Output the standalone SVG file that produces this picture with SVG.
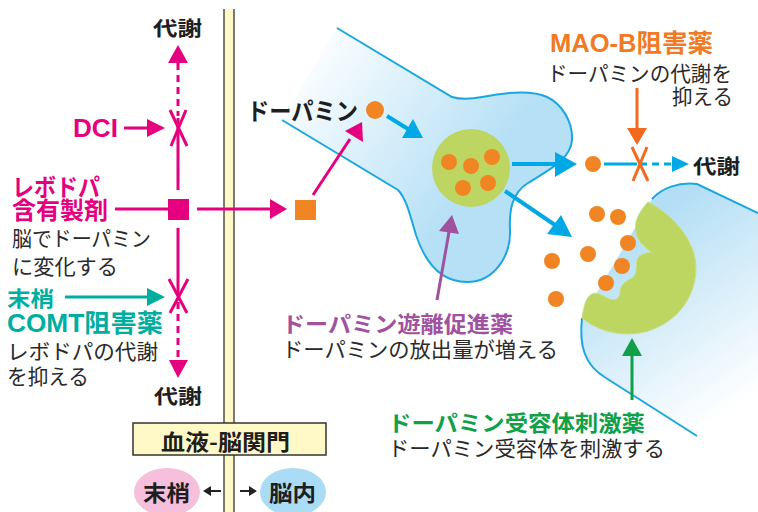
<svg xmlns="http://www.w3.org/2000/svg" width="758" height="512" viewBox="0 0 758 512">
  <defs>
    <linearGradient id="preFill" gradientUnits="userSpaceOnUse" x1="305" y1="45" x2="480" y2="175">
      <stop offset="0" stop-color="#ffffff"/>
      <stop offset="1" stop-color="#b6e0f6"/>
    </linearGradient>
    <linearGradient id="postFill" gradientUnits="userSpaceOnUse" x1="630" y1="230" x2="745" y2="400">
      <stop offset="0" stop-color="#b3def5"/>
      <stop offset="1" stop-color="#ffffff"/>
    </linearGradient>
  </defs>
  <style>
    .jp { font-family: "Noto Sans CJK JP", "Liberation Sans", sans-serif; }
    .lat { font-family: "Liberation Sans", "Noto Sans CJK JP", sans-serif; }
    .b { font-weight: 700; }
    .r { font-weight: 400; fill: #2a2a2a; }
    .mag { fill: #e4007f; }
    .teal { fill: #00ae9f; }
    .org { fill: #f07a25; }
    .pur { fill: #a0529e; }
    .grn { fill: #11a048; }
    .blk { fill: #1e1e1e; }
    .lnM { stroke: #e4007f; stroke-width: 3; fill: none; }
    .lnC { stroke: #00a9e6; stroke-width: 4; fill: none; }
    .dot { fill: #f18524; }
    .edge { stroke: #1aa7e0; stroke-width: 2; fill: none; }
  </style>

  <!-- blood-brain barrier band -->
  <g id="barrier">
    <rect x="224" y="9" width="10" height="503" fill="#fef9c6"/>
    <line x1="224" y1="9" x2="224" y2="512" stroke="#333" stroke-width="1.3"/>
    <line x1="234" y1="9" x2="234" y2="512" stroke="#333" stroke-width="1.3"/>
  </g>

  <!-- presynaptic neuron -->
  <g id="presynaptic">
    <path d="M337,28 L452,97 C462,100 472,99 482,97 C502,93 530,89 547,97 C562,104 573,122 572,140 C571,160 545,172 528,183 C512,193 509,210 510,230 C511,255 495,282 467,282 C440,282 425,262 416,235 C410,215 406,198 398,190 L282,120 Z" fill="url(#preFill)"/>
    <path class="edge" d="M337,28 L452,97 C462,100 472,99 482,97 C502,93 530,89 547,97 C562,104 573,122 572,140 C571,160 545,172 528,183 C512,193 509,210 510,230 C511,255 495,282 467,282 C440,282 425,262 416,235 C410,215 406,198 398,190 L282,120"/>
  </g>

  <!-- vesicle -->
  <g id="vesicle">
    <circle cx="471" cy="168" r="39" fill="#bdd661"/>
    <circle class="dot" cx="449" cy="162" r="8"/>
    <circle class="dot" cx="471" cy="166" r="8"/>
    <circle class="dot" cx="492" cy="157" r="8"/>
    <circle class="dot" cx="463" cy="188" r="8"/>
    <circle class="dot" cx="488" cy="183" r="8"/>
  </g>

  <!-- postsynaptic neuron and receptor -->
  <g id="postsynaptic">
    <path d="M652,199 C662,188 678,182 697,184 L758,213 L758,440 L697,436 L606,378 C584,365 579,345 582,318 Z" fill="url(#postFill)"/>
    <path class="edge" d="M652,199 C662,188 678,182 697,184 L758,213"/>
    <path class="edge" d="M582,318 C579,345 584,365 606,378 L697,436"/>
  </g>
  <g id="receptor">
    <path d="M648,202 C672,214 696,240 696,268 C696,306 664,334 628,334 C610,334 594,328 582,318 C584,305 586,297 592,294 C598,291 604,297 610,299 C616,301 620,298 620,292 C620,285 626,281 632,278 C637,275 636,266 637,260 C638,255 645,253 651,252 C645,247 638,242 636,233 C634,224 637,214 648,202 Z" fill="#bdd661" stroke="#c9e08a" stroke-width="1"/>
  </g>

  <!-- dopamine in the synaptic cleft -->
  <g id="cleft">
    <circle class="dot" cx="597" cy="214" r="8"/>
    <circle class="dot" cx="618" cy="217" r="8"/>
    <circle class="dot" cx="628" cy="243" r="8"/>
    <circle class="dot" cx="588" cy="254" r="8"/>
    <circle class="dot" cx="552" cy="261" r="8"/>
    <circle class="dot" cx="622" cy="266" r="8"/>
    <circle class="dot" cx="606" cy="283" r="8"/>
    <circle class="dot" cx="556" cy="299" r="8"/>
  </g>

  <!-- levodopa / dopamine markers -->
  <g id="levodopa">
    <rect x="168" y="199" width="21" height="21" fill="#e4007f"/>
  </g>
  <g id="levodopa-brain">
    <rect x="295" y="200" width="21" height="20" fill="#f18524"/>
  </g>
  <g id="dopamine">
    <circle class="dot" cx="375" cy="110" r="9"/>
    <text class="jp b blk" x="247" y="120" font-size="24" textLength="111" lengthAdjust="spacingAndGlyphs">ドーパミン</text>
  </g>
  <g id="dopamine-free">
    <circle class="dot" cx="593" cy="164" r="8"/>
  </g>

  <!-- connectors -->
  <g id="connectors">
    <!-- levodopa vertical axis -->
    <polygon points="168,63 188,63 178,45" fill="#e4007f"/>
    <line class="lnM" x1="178" y1="63" x2="178" y2="116" stroke-dasharray="7 5"/>
    <line class="lnM" x1="178" y1="118" x2="178" y2="190"/>
    <line class="lnM" x1="170" y1="110" x2="187" y2="146"/>
    <line class="lnM" x1="186" y1="110" x2="171" y2="146"/>
    <line class="lnM" x1="178" y1="228" x2="178" y2="295"/>
    <line class="lnM" x1="169" y1="279" x2="187" y2="313"/>
    <line class="lnM" x1="188" y1="279" x2="170" y2="313"/>
    <line class="lnM" x1="178" y1="302" x2="178" y2="361" stroke-dasharray="7 5"/>
    <polygon points="169,360 188,360 178,378" fill="#e4007f"/>
    <!-- DCI -->
    <line class="lnM" x1="124" y1="128" x2="148" y2="128"/>
    <polygon points="147,119 165,128 147,137" fill="#e4007f"/>
    <!-- levodopa label to square, square across barrier -->
    <line class="lnM" x1="115" y1="209" x2="168" y2="209"/>
    <line class="lnM" x1="197" y1="209" x2="271" y2="209"/>
    <polygon points="270,199 287,209 270,219" fill="#e4007f"/>
    <!-- conversion to dopamine -->
    <line class="lnM" x1="313" y1="195" x2="350" y2="139"/>
    <polygon points="345,131 362,122 363,142" fill="#e4007f"/>
    <!-- COMT -->
    <line x1="65" y1="297" x2="148" y2="297" stroke="#00ae9f" stroke-width="3"/>
    <polygon points="147,288 165,297 147,306" fill="#00ae9f"/>
    <!-- dopamine uptake / release -->
    <line class="lnC" x1="387" y1="116" x2="408" y2="129"/>
    <polygon points="402,138 413,119 423,138" fill="#00a9e6"/>
    <line class="lnC" x1="512" y1="164" x2="556" y2="164"/>
    <polygon points="555,152 577,164 555,177" fill="#00a9e6"/>
    <line class="lnC" x1="505" y1="191" x2="555" y2="225"/>
    <polygon points="547,234 561,215 572,237" fill="#00a9e6"/>
    <!-- MAO-B metabolism -->
    <line x1="604" y1="164" x2="637" y2="164" stroke="#00a9e6" stroke-width="3"/>
    <line x1="640" y1="164" x2="673" y2="164" stroke="#00a9e6" stroke-width="3" stroke-dasharray="7 5"/>
    <polygon points="672,156 689,164 672,172" fill="#00a9e6"/>
    <line x1="632" y1="147" x2="648" y2="181" stroke="#f26a1e" stroke-width="3"/>
    <line x1="647" y1="147" x2="633" y2="181" stroke="#f26a1e" stroke-width="3"/>
    <line x1="637" y1="88" x2="637" y2="129" stroke="#f26a1e" stroke-width="3"/>
    <polygon points="627,128 647,128 637,145" fill="#f26a1e"/>
    <!-- release enhancer -->
    <line x1="437" y1="300" x2="449" y2="232" stroke="#a0529e" stroke-width="3"/>
    <polygon points="439,231 452,215 459,234" fill="#a0529e"/>
    <!-- receptor agonist -->
    <line x1="632" y1="400" x2="632" y2="355" stroke="#11a048" stroke-width="3"/>
    <polygon points="622,356 642,356 632,338" fill="#11a048"/>
    <!-- periphery / brain -->
    <line x1="221" y1="491" x2="209" y2="491" stroke="#222" stroke-width="2"/>
    <polygon points="203,491 211,486 211,496" fill="#222"/>
    <line x1="240" y1="491" x2="251" y2="491" stroke="#222" stroke-width="2"/>
    <polygon points="257,491 249,486 249,496" fill="#222"/>
  </g>

  <!-- labels -->
  <g id="metab-top"><text class="jp b blk" x="153" y="36" font-size="20" textLength="49" lengthAdjust="spacingAndGlyphs">代謝</text></g>
  <g id="metab-bottom"><text class="jp b blk" x="154" y="404" font-size="20" textLength="48" lengthAdjust="spacingAndGlyphs">代謝</text></g>
  <g id="metab-right"><text class="jp b blk" x="693" y="174" font-size="20" textLength="47" lengthAdjust="spacingAndGlyphs">代謝</text></g>

  <g id="dci"><text class="lat b mag" x="73" y="137" font-size="26" textLength="45" lengthAdjust="spacingAndGlyphs">DCI</text></g>

  <g id="levodopa-label">
    <text class="jp b mag" x="12" y="196" font-size="24" textLength="88" lengthAdjust="spacingAndGlyphs">レボドパ</text>
    <text class="jp b mag" x="12" y="219" font-size="24" textLength="96" lengthAdjust="spacingAndGlyphs">含有製剤</text>
    <text class="jp r" x="12" y="246" font-size="21" textLength="139" lengthAdjust="spacingAndGlyphs">脳でドーパミン</text>
    <text class="jp r" x="12" y="274" font-size="21" textLength="106" lengthAdjust="spacingAndGlyphs">に変化する</text>
  </g>

  <g id="comt-label">
    <text class="jp b teal" x="7" y="306" font-size="21" textLength="47" lengthAdjust="spacingAndGlyphs">末梢</text>
    <text class="lat b teal" x="7" y="332" font-size="25" textLength="156" lengthAdjust="spacingAndGlyphs">COMT阻害薬</text>
    <text class="jp r" x="7" y="359" font-size="21" textLength="151" lengthAdjust="spacingAndGlyphs">レボドパの代謝</text>
    <text class="jp r" x="7" y="384" font-size="21" textLength="82" lengthAdjust="spacingAndGlyphs">を抑える</text>
  </g>

  <g id="bbb-label">
    <rect x="133" y="423" width="193" height="32" fill="#fef9c6" stroke="#333" stroke-width="1.5"/>
    <text class="jp b blk" x="161" y="450" font-size="22" textLength="129" lengthAdjust="spacingAndGlyphs">血液-脳関門</text>
  </g>

  <g id="periphery">
    <ellipse cx="167" cy="492" rx="33" ry="24" fill="#f6bfdb"/>
    <text class="jp b blk" x="143" y="501" font-size="22" textLength="47" lengthAdjust="spacingAndGlyphs">末梢</text>
  </g>
  <g id="brain">
    <ellipse cx="293" cy="492" rx="33" ry="24" fill="#aadcf5"/>
    <text class="jp b blk" x="269" y="501" font-size="22" textLength="47" lengthAdjust="spacingAndGlyphs">脳内</text>
  </g>

  <g id="maob-label">
    <text class="lat b org" x="550" y="52" font-size="25" textLength="163" lengthAdjust="spacingAndGlyphs">MAO-B阻害薬</text>
    <text class="jp r" x="547" y="81" font-size="21" textLength="185" lengthAdjust="spacingAndGlyphs">ドーパミンの代謝を</text>
    <text class="jp r" x="672" y="104" font-size="21" textLength="61" lengthAdjust="spacingAndGlyphs">抑える</text>
  </g>

  <g id="release-label">
    <text class="jp b pur" x="282" y="332" font-size="22" textLength="231" lengthAdjust="spacingAndGlyphs">ドーパミン遊離促進薬</text>
    <text class="jp r" x="282" y="357" font-size="21" textLength="276" lengthAdjust="spacingAndGlyphs">ドーパミンの放出量が増える</text>
  </g>

  <g id="agonist-label">
    <text class="jp b grn" x="388" y="431" font-size="22" textLength="257" lengthAdjust="spacingAndGlyphs">ドーパミン受容体刺激薬</text>
    <text class="jp r" x="388" y="456" font-size="21" textLength="277" lengthAdjust="spacingAndGlyphs">ドーパミン受容体を刺激する</text>
  </g>
</svg>
